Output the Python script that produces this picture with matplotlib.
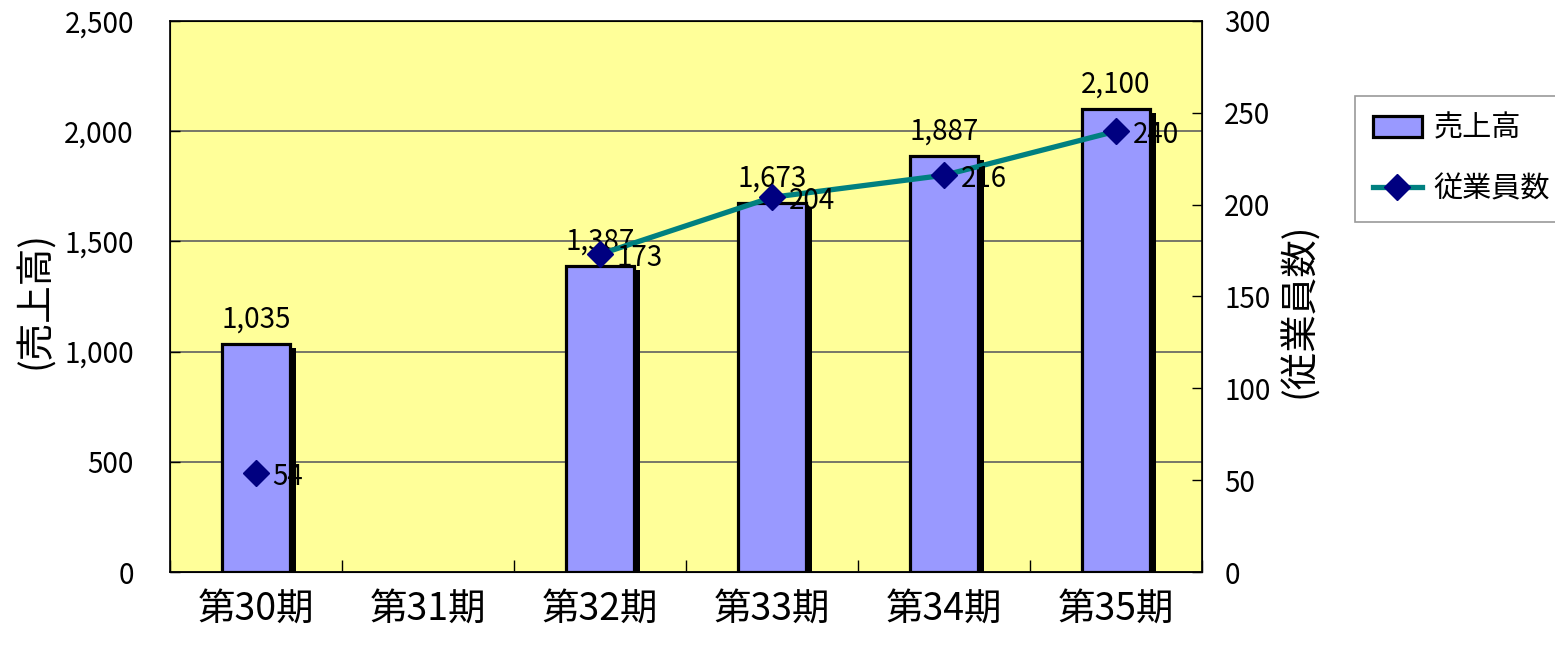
import numpy as np
import matplotlib
matplotlib.use("Agg")
import matplotlib.pyplot as plt
import matplotlib.patheffects as pe
from matplotlib.lines import Line2D
from matplotlib.patches import Patch

plt.rcParams['font.family'] = ['Noto Sans CJK JP', 'DejaVu Sans']

# data
periods = ['第30期', '第31期', '第32期', '第33期', '第34期', '第35期']
sales = [1035, np.nan, 1387, 1673, 1887, 2100]
employees = [54, np.nan, 173, 204, 216, 240]

bar_color = '#9999FF'
line_color = '#008080'
marker_color = '#000080'
bg_color = '#FFFF99'

fig = plt.figure(figsize=(15.55, 6.45), dpi=100)
ax = fig.add_axes([170 / 1555, 1 - 572 / 645, (1202 - 170) / 1555, (572 - 21) / 645])
ax.set_facecolor(bg_color)

x = np.arange(len(periods))

# bars with a black drop shadow
bars = ax.bar(x, sales, width=0.4, color=bar_color, edgecolor='black',
              linewidth=2.3, zorder=3)
for b in bars:
    b.set_path_effects([pe.SimplePatchShadow(offset=(4.3, -3), shadow_rgbFace='black',
                                             alpha=1.0), pe.Normal()])

for xi, v in zip(x, sales):
    if not np.isnan(v):
        ax.annotate(f'{int(v):,}', (xi, v), xytext=(0, 7), textcoords='offset points',
                    ha='center', va='bottom', fontsize=20, zorder=4)

ax.set_xlim(-0.5, len(periods) - 0.5)
ax.set_ylim(0, 2500)
ax.set_yticks(np.arange(0, 2501, 500))
ax.yaxis.set_major_formatter(matplotlib.ticker.FuncFormatter(lambda v, p: f'{int(v):,}'))
ax.grid(axis='y', color='#606060', linewidth=1.2, zorder=1)
ax.set_axisbelow(True)

ax.set_xticks(x)
ax.set_xticklabels(periods, fontsize=27)
ax.set_xticks(np.arange(-0.5, len(periods), 1.0), minor=True)
ax.tick_params(axis='x', which='major', length=0, pad=13)
ax.tick_params(axis='x', which='minor', direction='in', length=9, width=1)
ax.tick_params(axis='y', direction='in', length=7, width=1, labelsize=20, pad=26)

for s in ax.spines.values():
    s.set_linewidth(1.2)

# employees line on the right axis
ax2 = ax.twinx()
ax2.plot(x, employees, color=line_color, linewidth=3.8, marker='D', markersize=13,
         markerfacecolor=marker_color, markeredgecolor=marker_color, zorder=5)
ax2.set_ylim(0, 300)
ax2.set_yticks(np.arange(0, 301, 50))
ax2.tick_params(axis='y', direction='in', length=7, width=1, labelsize=20, pad=16)
for xi, v in zip(x, employees):
    if not np.isnan(v):
        ax2.annotate(f'{int(v)}', (xi, v), xytext=(12, -3), textcoords='offset points',
                     ha='left', va='center', fontsize=20, zorder=6)

fig.text(35 / 1555, 1 - 300 / 645, '(売上高)', rotation=90, ha='center', va='center',
         fontsize=27)
fig.text(1300 / 1555, 1 - 310 / 645, '(従業員数)', rotation=90, ha='center', va='center',
         fontsize=27)

handles = [Patch(facecolor=bar_color, edgecolor='black', linewidth=2.3),
           Line2D([], [], color=line_color, linewidth=3.8, marker='D', markersize=13,
                  markerfacecolor=marker_color, markeredgecolor=marker_color)]
leg = fig.legend(handles, ['売上高', '従業員数'], loc='upper left',
                 bbox_to_anchor=(1355 / 1555, 1 - 96 / 645), bbox_transform=fig.transFigure,
                 fontsize=21, frameon=True, fancybox=False, edgecolor='#808080',
                 handlelength=1.7, labelspacing=1.05, borderpad=0.6, handletextpad=0.4,
                 borderaxespad=0)
leg.get_frame().set_linewidth(1.2)

fig.savefig('out.png', dpi=100)
